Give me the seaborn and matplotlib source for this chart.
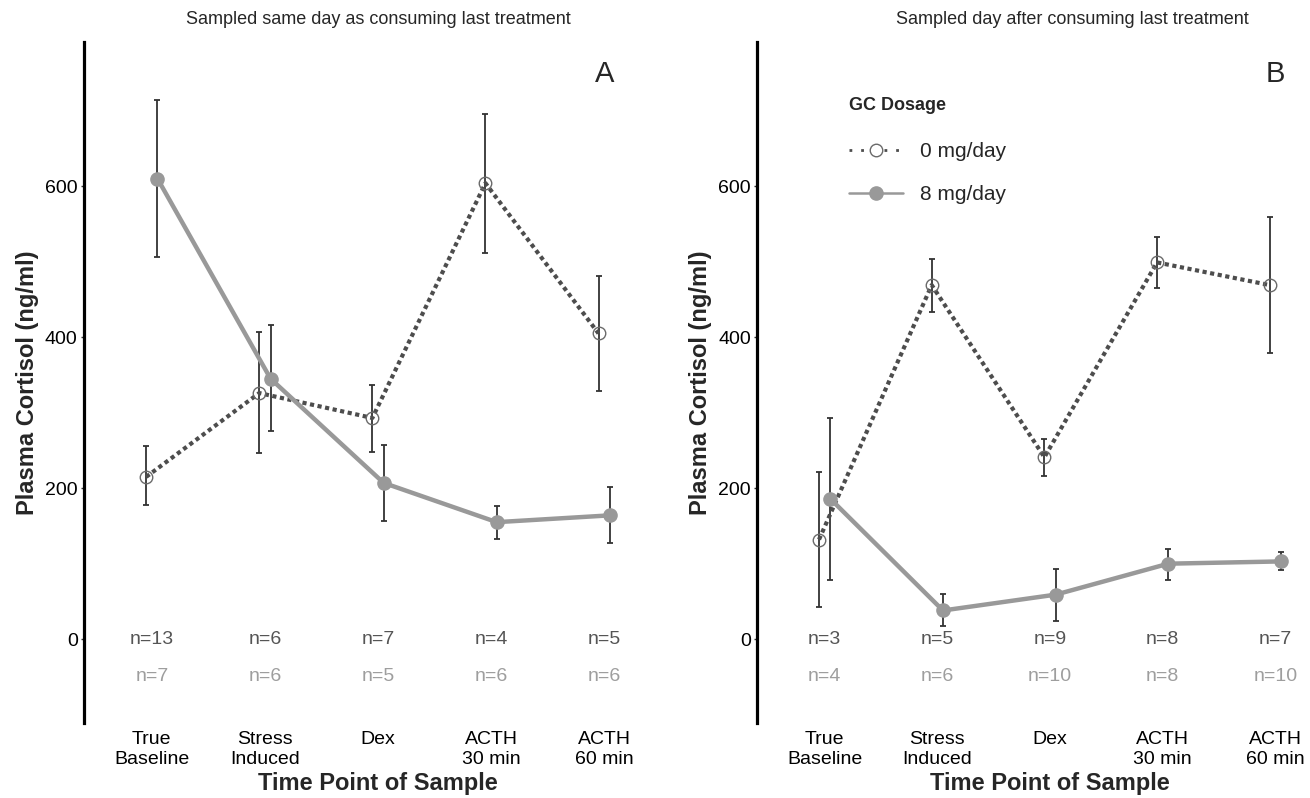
import pandas as pd
import seaborn as sns
import matplotlib.pyplot as plt

# Data
timepoints = ['True\nBaseline', 'Stress\nInduced', 'Dex', 'ACTH\n30 min', 'ACTH\n60 min']
groups = ['0 mg/day', '8 mg/day']

# Panel A - sampled same day as consuming last treatment
a_mean_0 = [215, 326, 293, 604, 405]
a_low_0 = [178, 246, 248, 511, 329]
a_high_0 = [256, 407, 337, 696, 481]
a_n_0 = [13, 6, 7, 4, 5]
a_mean_8 = [610, 345, 207, 155, 164]
a_low_8 = [506, 276, 157, 133, 128]
a_high_8 = [714, 416, 257, 177, 201]
a_n_8 = [7, 6, 5, 6, 6]

# Panel B - sampled day after consuming last treatment
b_mean_0 = [132, 469, 241, 499, 469]
b_low_0 = [42, 434, 216, 465, 379]
b_high_0 = [222, 503, 265, 533, 559]
b_n_0 = [3, 5, 9, 8, 7]
b_mean_8 = [186, 38, 59, 100, 103]
b_low_8 = [79, 17, 24, 79, 92]
b_high_8 = [293, 60, 93, 120, 115]
b_n_8 = [4, 6, 10, 8, 10]


def make_df(m0, l0, h0, n0, m8, l8, h8, n8):
    rows = []
    for g, m, lo, hi, n in [(groups[0], m0, l0, h0, n0), (groups[1], m8, l8, h8, n8)]:
        for i in range(len(timepoints)):
            rows.append({'time': i, 'group': g, 'mean': m[i], 'low': lo[i], 'high': hi[i], 'n': n[i]})
    return pd.DataFrame(rows)


df_a = make_df(a_mean_0, a_low_0, a_high_0, a_n_0, a_mean_8, a_low_8, a_high_8, a_n_8)
df_b = make_df(b_mean_0, b_low_0, b_high_0, b_n_0, b_mean_8, b_low_8, b_high_8, b_n_8)

styles = {
    '0 mg/day': dict(color='#4d4d4d', linestyle=(0, (1, 0.85)), linewidth=3.0,
                     marker='o', markersize=9, markerfacecolor='none',
                     markeredgecolor='#6a6a6a', markeredgewidth=1.0, zorder=2),
    '8 mg/day': dict(color='#999999', linestyle='-', linewidth=3.2,
                     marker='o', markersize=9.5, markerfacecolor='#999999',
                     markeredgecolor='#999999', markeredgewidth=1.0, zorder=3),
}
dodge = {'0 mg/day': -0.05, '8 mg/day': 0.05}
n_colors = {'0 mg/day': '#555555', '8 mg/day': '#9e9e9e'}
n_ypos = {'0 mg/day': 0, '8 mg/day': -50}

sns.set_style("white")
plt.rcParams['font.family'] = ['Liberation Sans', 'DejaVu Sans']

fig = plt.figure(figsize=(13.1, 7.98), dpi=100)
ax_a = fig.add_axes([0.0641, 0.094, 0.4489, 0.8534])
ax_b = fig.add_axes([0.5779, 0.094, 0.4473, 0.8534])


def draw_panel(ax, df, title, title_x, letter, show_legend):
    df = df.copy()
    df['xpos'] = df['time'] + df['group'].map(dodge)
    for g in groups:
        sub = df[df['group'] == g]
        ax.errorbar(sub['xpos'], sub['mean'],
                    yerr=[sub['mean'] - sub['low'], sub['high'] - sub['mean']],
                    fmt='none', ecolor='#333333', elinewidth=1.3,
                    capsize=2.5, capthick=1.3, zorder=1)
    for g in groups:
        sub = df[df['group'] == g]
        sns.lineplot(data=sub, x='xpos', y='mean', ax=ax, label=g, legend=False, **styles[g])
        for i, n in zip(sub['time'], sub['n']):
            ax.text(i, n_ypos[g], f'n={n}', ha='center', va='center',
                    fontsize=14, color=n_colors[g])

    ax.set_xlim(-0.6, 4.6)
    ax.set_ylim(-111, 791)
    ax.set_xticks(range(len(timepoints)))
    ax.set_xticklabels(timepoints, linespacing=1.2)
    ax.set_yticks([0, 200, 400, 600])
    ax.tick_params(axis='x', length=0, pad=6, labelsize=14, colors='black')
    ax.tick_params(axis='y', length=2.5, width=1, color='#333333', pad=2,
                   labelsize=14, labelcolor='black', left=True)
    for s in ['top', 'right', 'bottom']:
        ax.spines[s].set_visible(False)
    ax.spines['left'].set_linewidth(2.3)
    ax.spines['left'].set_color('black')
    ax.set_xlabel('Time Point of Sample', fontsize=17, fontweight='bold', labelpad=3)
    ax.set_ylabel('Plasma Cortisol (ng/ml)', fontsize=17, fontweight='bold', labelpad=4)
    ax.set_title(title, fontsize=13, x=title_x, pad=13)
    ax.text(4, 748, letter, ha='center', va='center', fontsize=21)

    if show_legend:
        leg = ax.legend(title='GC Dosage', loc='upper left', bbox_to_anchor=(0.125, 0.946),
                        frameon=False, fontsize=15, handlelength=2.6, handletextpad=0.8,
                        labelspacing=1.15, alignment='left',
                        title_fontproperties={'weight': 'bold', 'size': 13})
        leg._legend_box.sep = 20
        h0, h8 = leg.legend_handles
        h0.set_linewidth(2.0)
        h0.set_linestyle((0, (1, 3.2)))
        h0.set_markerfacecolor('white')
        h8.set_linewidth(1.8)


draw_panel(ax_a, df_a, 'Sampled same day as consuming last treatment', 0.5, 'A', False)
draw_panel(ax_b, df_b, 'Sampled day after consuming last treatment', 0.5375, 'B', True)

plt.savefig('out.png', dpi=100)
